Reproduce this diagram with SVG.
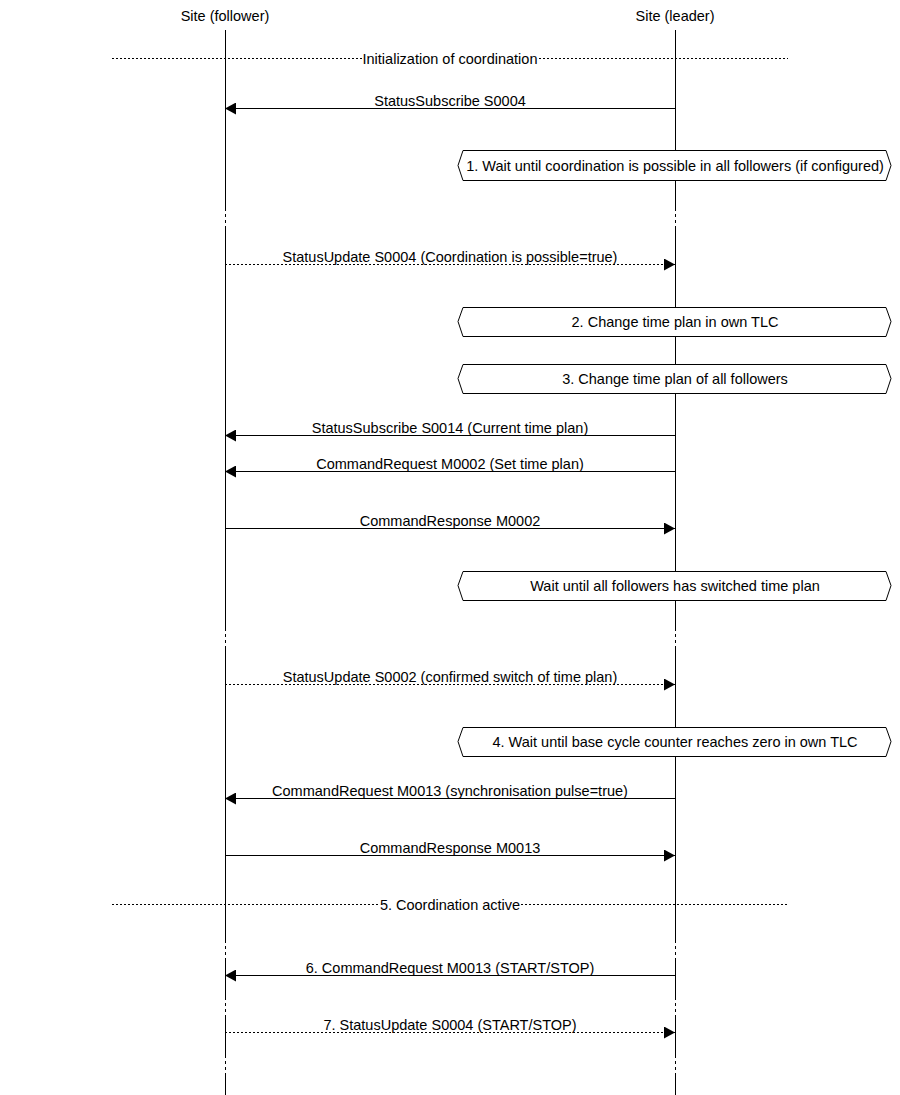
<svg xmlns="http://www.w3.org/2000/svg" width="900" height="1095" viewBox="0 0 900 1095">
<style>
text{font-family:"Liberation Sans",Arial,sans-serif;font-size:14.5px;fill:#000;text-anchor:middle}
.life{stroke:#000;stroke-width:1;fill:none}
.lifedot{stroke:#000;stroke-width:1;stroke-dasharray:3,3;fill:none}
.msg{stroke:#000;stroke-width:1;fill:none;marker-end:url(#ah)}
.dmsg{stroke:#000;stroke-width:1;stroke-dasharray:2,2;fill:none;marker-end:url(#ah)}
.div{stroke:#000;stroke-width:1;stroke-dasharray:2,2;fill:none}
.box{fill:#fff;stroke:#000;stroke-width:1}
</style>
<defs>
<marker id="ah" viewBox="0 0 11 12" refX="11" refY="6" markerWidth="11" markerHeight="12" markerUnits="userSpaceOnUse" orient="auto">
<path d="M0,0 L11,6 L0,12 z" fill="#000"/>
</marker>
</defs>
<rect width="900" height="1095" fill="#fff"/>
<g id="follower">
<text x="225" y="21">Site (follower)</text>
<path class="life" d="M225.5,30V208M225.5,228V628M225.5,648V940M225.5,960V997M225.5,1017V1055M225.5,1075V1095"/>
<path class="lifedot" d="M225.5,208V228M225.5,628V648M225.5,940V960M225.5,997V1017M225.5,1055V1075"/>
</g>
<g id="leader">
<text x="675" y="21">Site (leader)</text>
<path class="life" d="M675.5,30V208M675.5,228V628M675.5,648V940M675.5,960V997M675.5,1017V1055M675.5,1075V1095"/>
<path class="lifedot" d="M675.5,208V228M675.5,628V648M675.5,940V960M675.5,997V1017M675.5,1055V1075"/>
</g>
<g id="div-init">
<path class="div" d="M112,58.5H362M539,58.5H788"/>
<text x="450" y="64">Initialization of coordination</text>
</g>
<g id="box1">
<polygon class="box" points="458,165.5 463,150.5 886,150.5 891,165.5 886,180.5 463,180.5"/>
<text x="675" y="171">1. Wait until coordination is possible in all followers (if configured)</text>
</g>
<g id="box2">
<polygon class="box" points="458,321.5 463,307.5 886,307.5 891,321.5 886,336.5 463,336.5"/>
<text x="675" y="327">2. Change time plan in own TLC</text>
</g>
<g id="box3">
<polygon class="box" points="458,378.5 463,364.5 886,364.5 891,378.5 886,393.5 463,393.5"/>
<text x="675" y="384">3. Change time plan of all followers</text>
</g>
<g id="box-wait">
<polygon class="box" points="458,585.5 463,571.5 886,571.5 891,585.5 886,600.5 463,600.5"/>
<text x="675" y="591">Wait until all followers has switched time plan</text>
</g>
<g id="box4">
<polygon class="box" points="458,741.5 463,727.5 886,727.5 891,741.5 886,756.5 463,756.5"/>
<text x="675" y="747">4. Wait until base cycle counter reaches zero in own TLC</text>
</g>
<g id="div-active">
<path class="div" d="M112,904.5H380M521,904.5H788"/>
<text x="450" y="910">5. Coordination active</text>
</g>
<g id="connectors">
<line class="msg" x1="675" y1="108.5" x2="225" y2="108.5"/>
<text x="450" y="106">StatusSubscribe S0004</text>
<line class="dmsg" x1="225" y1="264.5" x2="675" y2="264.5"/>
<text x="450" y="262">StatusUpdate S0004 (Coordination is possible=true)</text>
<line class="msg" x1="675" y1="435.5" x2="225" y2="435.5"/>
<text x="450" y="433">StatusSubscribe S0014 (Current time plan)</text>
<line class="msg" x1="675" y1="471.5" x2="225" y2="471.5"/>
<text x="450" y="469">CommandRequest M0002 (Set time plan)</text>
<line class="msg" x1="225" y1="528.5" x2="675" y2="528.5"/>
<text x="450" y="526">CommandResponse M0002</text>
<line class="dmsg" x1="225" y1="684.5" x2="675" y2="684.5"/>
<text x="450" y="682">StatusUpdate S0002 (confirmed switch of time plan)</text>
<line class="msg" x1="675" y1="798.5" x2="225" y2="798.5"/>
<text x="450" y="796">CommandRequest M0013 (synchronisation pulse=true)</text>
<line class="msg" x1="225" y1="855.5" x2="675" y2="855.5"/>
<text x="450" y="853">CommandResponse M0013</text>
<line class="msg" x1="675" y1="975.5" x2="225" y2="975.5"/>
<text x="450" y="973">6. CommandRequest M0013 (START/STOP)</text>
<line class="dmsg" x1="225" y1="1032.5" x2="675" y2="1032.5"/>
<text x="450" y="1030">7. StatusUpdate S0004 (START/STOP)</text>
</g>
</svg>
